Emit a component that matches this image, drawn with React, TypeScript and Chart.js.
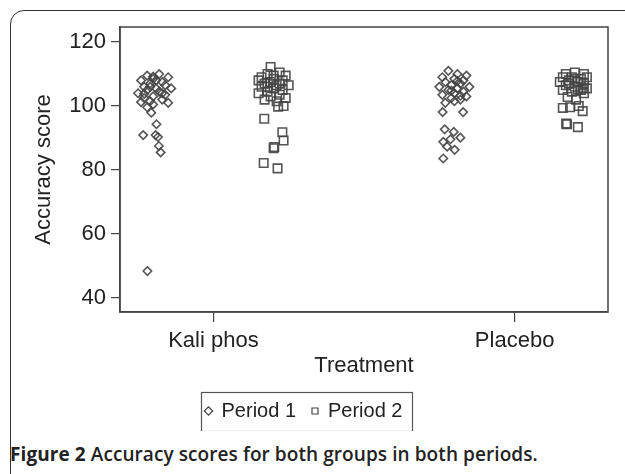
import React, { useEffect, useRef } from "react";
import { Chart, registerables } from "chart.js";

Chart.register(...registerables);

// Treatment groups (x categories) and tick labels
const treatments = ["Kali phos", "Placebo"];
const yTickValues = [40, 60, 80, 100, 120];
const seriesNames = ["Period 1", "Period 2"];

// Each point: [jitter offset from group position, accuracy score]
const kaliPeriod1 = [
  [-0.22, 109.5], [-0.18, 110], [-0.15, 109], [-0.2, 108.5], [-0.24, 108], [-0.17, 107.5],
  [-0.21, 107], [-0.16, 106.5], [-0.23, 106], [-0.19, 105.5], [-0.14, 105.5], [-0.22, 105],
  [-0.18, 104.5], [-0.25, 104], [-0.16, 103.5], [-0.2, 103], [-0.23, 102.5], [-0.17, 102],
  [-0.21, 101.5], [-0.24, 101.2], [-0.15, 101], [-0.2, 100.5], [-0.22, 99.6],
  [-0.19, 108], [-0.21, 106], [-0.17, 104], [-0.2, 109.2], [-0.23, 103.8],
  [-0.206, 97.9], [-0.189, 94.3], [-0.233, 90.9], [-0.192, 90.9], [-0.184, 90.3],
  [-0.181, 87.5], [-0.175, 85.5], [-0.219, 48.4],
];
const kaliPeriod2 = [
  [0.19, 112.2], [0.18, 110], [0.22, 110.5], [0.24, 109.5], [0.16, 109], [0.2, 108.5],
  [0.15, 108], [0.23, 108], [0.19, 107.5], [0.17, 107], [0.21, 106.5], [0.25, 106.5],
  [0.16, 106], [0.2, 105.5], [0.23, 105], [0.18, 104.5], [0.15, 104], [0.22, 103.5],
  [0.19, 103], [0.24, 102.5], [0.17, 102], [0.21, 101.5], [0.233, 100], [0.215, 99.8],
  [0.2, 109.5], [0.22, 107], [0.18, 106],
  [0.169, 96], [0.229, 91.8], [0.233, 89.2], [0.202, 87.2], [0.2, 86.8],
  [0.167, 82.2], [0.213, 80.5],
];
const placeboPeriod1 = [
  [-0.22, 111], [-0.19, 110], [-0.16, 109.5], [-0.24, 109], [-0.2, 108.5], [-0.17, 108],
  [-0.23, 107.5], [-0.18, 107], [-0.21, 106.5], [-0.15, 106], [-0.25, 106], [-0.19, 105.5],
  [-0.22, 105], [-0.17, 104.5], [-0.2, 104], [-0.24, 103.5], [-0.16, 103], [-0.21, 102.5],
  [-0.18, 102], [-0.2, 101.5], [-0.23, 101], [-0.19, 107.8], [-0.21, 104.8], [-0.18, 103.2],
  [-0.239, 98.1], [-0.171, 98.1], [-0.232, 92.7], [-0.202, 91.9], [-0.18, 90.1],
  [-0.237, 88.8], [-0.213, 89.6], [-0.224, 87.3], [-0.199, 86.3], [-0.237, 83.6],
];
const placeboPeriod2 = [
  [0.17, 110], [0.2, 110.5], [0.23, 110], [0.16, 109], [0.19, 109], [0.22, 108.5],
  [0.24, 109], [0.18, 108], [0.21, 107.5], [0.15, 107.5], [0.23, 107], [0.17, 106.5],
  [0.2, 106], [0.24, 105.5], [0.16, 105], [0.22, 105], [0.19, 104.5], [0.23, 104],
  [0.2, 108.5], [0.18, 107], [0.21, 105.2],
  [0.226, 105.6], [0.176, 102.8], [0.204, 102], [0.16, 99.4], [0.184, 99.6],
  [0.213, 100], [0.226, 98.4], [0.171, 94.5], [0.174, 94.3], [0.21, 93.4],
];

const toPoints = (pts: number[][], groupIndex: number) =>
  pts.map(([off, y]) => ({ x: groupIndex + 1 + off, y }));

const INK = "#222";
const LINE = "#444";
const MARK = "rgba(68,68,68,0.9)";
const FONT = "'Liberation Sans', Arial, sans-serif";

const framePlugin = {
  id: "framePlugin",
  afterDraw(chart: any) {
    const { ctx, chartArea } = chart;
    ctx.save();
    ctx.strokeStyle = LINE;
    ctx.lineWidth = 1.5;
    ctx.strokeRect(chartArea.left, chartArea.top, chartArea.right - chartArea.left, chartArea.bottom - chartArea.top);
    const lg = chart.legend;
    if (lg && lg.legendHitBoxes && lg.legendHitBoxes.length) {
      const hb = lg.legendHitBoxes;
      const left = Math.min(...hb.map((h: any) => h.left)) - 5;
      const right = Math.max(...hb.map((h: any) => h.left + h.width)) + 9;
      const cy = hb[0].top + hb[0].height / 2;
      ctx.lineWidth = 1.2;
      ctx.strokeStyle = "#555";
      ctx.strokeRect(Math.round(left) + 0.5, Math.round(cy - 19.5) + 0.5, Math.round(right - left), 39);
    }
    ctx.restore();
  },
};

export default function App() {
  const canvasRef = useRef<HTMLCanvasElement | null>(null);

  useEffect(() => {
    if (!canvasRef.current) return;
    const chart = new Chart(canvasRef.current, {
      type: "scatter",
      data: {
        datasets: [
          {
            label: seriesNames[0],
            data: [...toPoints(kaliPeriod1, 0), ...toPoints(placeboPeriod1, 1)],
            pointStyle: "rectRot",
            pointRadius: 4.2,
            borderColor: MARK,
            backgroundColor: "rgba(0,0,0,0)",
            borderWidth: 1.6,
          },
          {
            label: seriesNames[1],
            data: [...toPoints(kaliPeriod2, 0), ...toPoints(placeboPeriod2, 1)],
            pointStyle: "rect",
            pointRadius: 6,
            borderColor: MARK,
            backgroundColor: "rgba(0,0,0,0)",
            borderWidth: 1.6,
          },
        ],
      },
      options: {
        animation: false,
        responsive: false,
        maintainAspectRatio: false,
        layout: { padding: { top: 27, right: 17, left: 0, bottom: 0 } },
        plugins: {
          tooltip: { enabled: false },
          legend: {
            display: true,
            position: "bottom",
            labels: {
              usePointStyle: true,
              boxWidth: 6,
              boxHeight: 6,
              padding: 16,
              color: INK,
              font: { family: FONT, size: 20 },
              generateLabels: (ch: any) =>
                ch.data.datasets.map((ds: any, i: number) => ({
                  text: ds.label,
                  pointStyle: ds.pointStyle,
                  strokeStyle: "#444",
                  fillStyle: "rgba(0,0,0,0)",
                  lineWidth: 1.2,
                  datasetIndex: i,
                  fontColor: INK,
                })),
            },
          },
        },
        scales: {
          x: {
            type: "linear",
            min: 0.69,
            max: 2.31,
            afterBuildTicks: (scale: any) => {
              scale.ticks = treatments.map((_, i) => ({ value: i + 1 }));
            },
            afterFit: (scale: any) => {
              scale.height = 73;
            },
            ticks: {
              color: INK,
              font: { family: FONT, size: 22 },
              padding: 6,
              maxRotation: 0,
              autoSkip: false,
              callback: (v: any) => treatments[Math.round(Number(v)) - 1] ?? "",
            },
            grid: { drawOnChartArea: false, drawTicks: true, tickLength: 10, color: LINE, lineWidth: 1.2 },
            border: { display: true, color: LINE, width: 1.5 },
            title: {
              display: true,
              text: "Treatment",
              color: INK,
              font: { family: FONT, size: 22 },
              padding: { top: 0, bottom: 6 },
            },
          },
          y: {
            type: "linear",
            min: 35.6,
            max: 124.7,
            afterBuildTicks: (scale: any) => {
              scale.ticks = yTickValues.map((v) => ({ value: v }));
            },
            afterFit: (scale: any) => {
              scale.width = 120;
            },
            ticks: {
              color: INK,
              font: { family: FONT, size: 22 },
              padding: 5,
            },
            grid: { drawOnChartArea: false, drawTicks: true, tickLength: 9, color: LINE, lineWidth: 1.2 },
            border: { display: true, color: LINE, width: 1.5 },
            title: {
              display: true,
              text: "Accuracy score",
              color: INK,
              font: { family: FONT, size: 22 },
              padding: { top: 31, bottom: 0 },
            },
          },
        },
      },
      plugins: [framePlugin],
    });
    return () => chart.destroy();
  }, []);

  return (
    <div style={{ position: "fixed", left: 0, top: 0, width: 625, height: 474, overflow: "hidden", background: "#fff" }}>
      <div
        style={{
          position: "absolute",
          left: 10,
          top: 10,
          width: 700,
          height: 600,
          border: "1.5px solid #333",
          borderRadius: 14,
          boxSizing: "border-box",
        }}
      />
      <canvas
        ref={canvasRef}
        width={625}
        height={431}
        style={{ position: "absolute", left: 0, top: 0, width: 625, height: 431 }}
      />
      <div
        style={{
          position: "absolute",
          left: 10,
          top: 441,
          fontFamily: "'Open Sans', sans-serif",
          fontSize: 19,
          color: "#222",
          whiteSpace: "nowrap",
          fontWeight: 600,
          letterSpacing: 0.08,
        }}
      >
        <span style={{ fontWeight: 700 }}>Figure 2</span> Accuracy scores for both groups in both periods.
      </div>
    </div>
  );
}
